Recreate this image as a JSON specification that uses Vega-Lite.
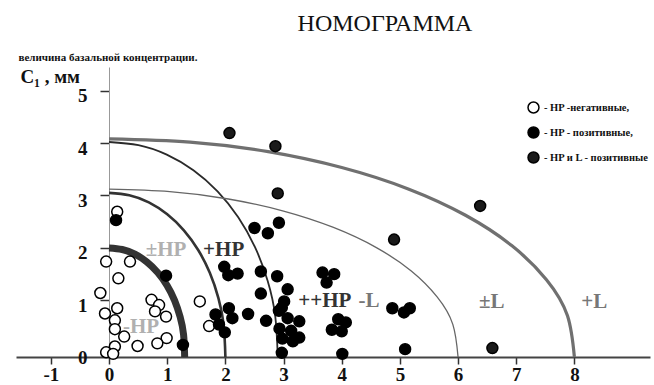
{
  "$schema": "https://vega.github.io/schema/vega-lite/v6.json",
  "width": 634,
  "height": 290,
  "autosize": "none",
  "padding": {"left": 16, "top": 67, "right": 4, "bottom": 28},
  "background": "white",
  "title": {
    "text": "НОМОГРАММА",
    "font": "Liberation Serif",
    "fontSize": 24,
    "fontWeight": "normal",
    "color": "#111",
    "anchor": "middle",
    "frame": "group",
    "dx": 52,
    "dy": 14,
    "offset": 10,
    "baseline": "alphabetic"
  },
  "config": {
    "view": {"stroke": null},
    "axis": {"grid": false}
  },
  "datasets": {
    "curves": [
      {"c": "c1", "i": 0, "x": 0, "y": 2.0},
      {"c": "c1", "i": 1, "x": 0.226, "y": 1.97},
      {"c": "c1", "i": 2, "x": 0.445, "y": 1.88},
      {"c": "c1", "i": 3, "x": 0.65, "y": 1.732},
      {"c": "c1", "i": 4, "x": 0.836, "y": 1.532},
      {"c": "c1", "i": 5, "x": 0.996, "y": 1.286},
      {"c": "c1", "i": 6, "x": 1.126, "y": 1.0},
      {"c": "c1", "i": 7, "x": 1.222, "y": 0.684},
      {"c": "c1", "i": 8, "x": 1.281, "y": 0.348},
      {"c": "c1", "i": 9, "x": 1.3, "y": -0.08},
      {"c": "c2", "i": 0, "x": 0, "y": 3.05},
      {"c": "c2", "i": 1, "x": 0.348, "y": 3.004},
      {"c": "c2", "i": 2, "x": 0.684, "y": 2.867},
      {"c": "c2", "i": 3, "x": 1.0, "y": 2.641},
      {"c": "c2", "i": 4, "x": 1.286, "y": 2.336},
      {"c": "c2", "i": 5, "x": 1.532, "y": 1.961},
      {"c": "c2", "i": 6, "x": 1.732, "y": 1.525},
      {"c": "c2", "i": 7, "x": 1.88, "y": 1.043},
      {"c": "c2", "i": 8, "x": 1.97, "y": 0.531},
      {"c": "c2", "i": 9, "x": 2.0, "y": -0.08},
      {"c": "c3", "i": 0, "x": 0, "y": 4.02},
      {"c": "c3", "i": 1, "x": 0.505, "y": 3.96},
      {"c": "c3", "i": 2, "x": 0.992, "y": 3.779},
      {"c": "c3", "i": 3, "x": 1.45, "y": 3.481},
      {"c": "c3", "i": 4, "x": 1.865, "y": 3.079},
      {"c": "c3", "i": 5, "x": 2.221, "y": 2.585},
      {"c": "c3", "i": 6, "x": 2.511, "y": 2.01},
      {"c": "c3", "i": 7, "x": 2.726, "y": 1.375},
      {"c": "c3", "i": 8, "x": 2.857, "y": 0.699},
      {"c": "c3", "i": 9, "x": 2.9, "y": -0.08},
      {"c": "c4", "i": 0, "x": 0, "y": 3.12},
      {"c": "c4", "i": 1, "x": 1.044, "y": 3.073},
      {"c": "c4", "i": 2, "x": 2.052, "y": 2.933},
      {"c": "c4", "i": 3, "x": 3.0, "y": 2.702},
      {"c": "c4", "i": 4, "x": 3.858, "y": 2.39},
      {"c": "c4", "i": 5, "x": 4.596, "y": 2.006},
      {"c": "c4", "i": 6, "x": 5.196, "y": 1.56},
      {"c": "c4", "i": 7, "x": 5.64, "y": 1.067},
      {"c": "c4", "i": 8, "x": 5.91, "y": 0.543},
      {"c": "c4", "i": 9, "x": 6.0, "y": -0.08},
      {"c": "c5", "i": 0, "x": 0, "y": 4.08},
      {"c": "c5", "i": 1, "x": 1.392, "y": 4.019},
      {"c": "c5", "i": 2, "x": 2.736, "y": 3.835},
      {"c": "c5", "i": 3, "x": 4.0, "y": 3.533},
      {"c": "c5", "i": 4, "x": 5.144, "y": 3.125},
      {"c": "c5", "i": 5, "x": 6.128, "y": 2.623},
      {"c": "c5", "i": 6, "x": 6.928, "y": 2.04},
      {"c": "c5", "i": 7, "x": 7.52, "y": 1.395},
      {"c": "c5", "i": 8, "x": 7.88, "y": 0.71},
      {"c": "c5", "i": 9, "x": 8.0, "y": -0.08}
    ],
    "points": [
      {"type": "- HP -негативные,", "x": 0.14, "y": 2.69},
      {"type": "- HP -негативные,", "x": -0.05, "y": 1.74},
      {"type": "- HP -негативные,", "x": 0.36, "y": 1.74},
      {"type": "- HP -негативные,", "x": 0.16, "y": 1.42},
      {"type": "- HP -негативные,", "x": -0.15, "y": 1.14},
      {"type": "- HP -негативные,", "x": 0.14, "y": 0.85},
      {"type": "- HP -негативные,", "x": -0.07, "y": 0.75},
      {"type": "- HP -негативные,", "x": 0.1, "y": 0.62},
      {"type": "- HP -негативные,", "x": 0.1, "y": 0.45},
      {"type": "- HP -негативные,", "x": 0.26, "y": 0.31},
      {"type": "- HP -негативные,", "x": 0.73, "y": 1.01},
      {"type": "- HP -негативные,", "x": 0.86, "y": 0.91},
      {"type": "- HP -негативные,", "x": 0.79, "y": 0.79},
      {"type": "- HP -негативные,", "x": 0.98, "y": 0.69},
      {"type": "- HP -негативные,", "x": 0.99, "y": 0.28},
      {"type": "- HP -негативные,", "x": 0.83, "y": 0.18},
      {"type": "- HP -негативные,", "x": 0.49, "y": 0.13},
      {"type": "- HP -негативные,", "x": 0.1, "y": 0.12},
      {"type": "- HP -негативные,", "x": -0.05, "y": 0.01},
      {"type": "- HP -негативные,", "x": 0.07, "y": -0.02},
      {"type": "- HP -негативные,", "x": 1.56, "y": 0.98},
      {"type": "- HP -негативные,", "x": 1.72, "y": 0.51},
      {"type": "- HP - позитивные,", "x": 0.12, "y": 2.53},
      {"type": "- HP - позитивные,", "x": 0.98, "y": 1.47},
      {"type": "- HP - позитивные,", "x": 1.27, "y": 0.15},
      {"type": "- HP - позитивные,", "x": 2.5, "y": 2.38},
      {"type": "- HP - позитивные,", "x": 2.73, "y": 2.28},
      {"type": "- HP - позитивные,", "x": 2.92, "y": 2.48},
      {"type": "- HP - позитивные,", "x": 1.98, "y": 1.64},
      {"type": "- HP - позитивные,", "x": 2.05, "y": 1.48},
      {"type": "- HP - позитивные,", "x": 2.21, "y": 1.51},
      {"type": "- HP - позитивные,", "x": 2.61, "y": 1.55},
      {"type": "- HP - позитивные,", "x": 2.89, "y": 1.46},
      {"type": "- HP - позитивные,", "x": 3.07, "y": 1.21},
      {"type": "- HP - позитивные,", "x": 2.61, "y": 1.13},
      {"type": "- HP - позитивные,", "x": 3.01, "y": 0.98},
      {"type": "- HP - позитивные,", "x": 2.97, "y": 0.86},
      {"type": "- HP - позитивные,", "x": 2.92, "y": 0.8},
      {"type": "- HP - позитивные,", "x": 2.06, "y": 0.85},
      {"type": "- HP - позитивные,", "x": 1.83, "y": 0.73},
      {"type": "- HP - позитивные,", "x": 2.12, "y": 0.66},
      {"type": "- HP - позитивные,", "x": 2.39, "y": 0.74},
      {"type": "- HP - позитивные,", "x": 1.89, "y": 0.54},
      {"type": "- HP - позитивные,", "x": 1.99, "y": 0.39},
      {"type": "- HP - позитивные,", "x": 2.7, "y": 0.61},
      {"type": "- HP - позитивные,", "x": 3.07, "y": 0.66},
      {"type": "- HP - позитивные,", "x": 3.27, "y": 0.6},
      {"type": "- HP - позитивные,", "x": 2.93, "y": 0.46},
      {"type": "- HP - позитивные,", "x": 3.13, "y": 0.42},
      {"type": "- HP - позитивные,", "x": 2.98, "y": 0.27},
      {"type": "- HP - позитивные,", "x": 3.16, "y": 0.22},
      {"type": "- HP - позитивные,", "x": 3.27, "y": 0.29},
      {"type": "- HP - позитивные,", "x": 2.97, "y": 0.0},
      {"type": "- HP - позитивные,", "x": 3.67, "y": 1.53},
      {"type": "- HP - позитивные,", "x": 3.87, "y": 1.5},
      {"type": "- HP - позитивные,", "x": 3.74, "y": 1.34},
      {"type": "- HP - позитивные,", "x": 3.94, "y": 0.64},
      {"type": "- HP - позитивные,", "x": 4.07, "y": 0.58},
      {"type": "- HP - позитивные,", "x": 3.83, "y": 0.44},
      {"type": "- HP - позитивные,", "x": 4.0, "y": 0.41},
      {"type": "- HP - позитивные,", "x": 4.01, "y": -0.02},
      {"type": "- HP - позитивные,", "x": 4.87, "y": 0.85},
      {"type": "- HP - позитивные,", "x": 5.07, "y": 0.77},
      {"type": "- HP - позитивные,", "x": 5.17, "y": 0.85},
      {"type": "- HP - позитивные,", "x": 5.09, "y": 0.07},
      {"type": "- HP и  L - позитивные", "x": 2.07, "y": 4.19},
      {"type": "- HP и  L - позитивные", "x": 2.86, "y": 3.94},
      {"type": "- HP и  L - позитивные", "x": 2.9, "y": 3.04},
      {"type": "- HP и  L - позитивные", "x": 4.9, "y": 2.16},
      {"type": "- HP и  L - позитивные", "x": 6.38, "y": 2.8},
      {"type": "- HP и  L - позитивные", "x": 6.59, "y": 0.09}
    ],
    "labels": [
      {"label": "±HP", "tone": "light", "x": 0.98, "y": 1.96},
      {"label": "-HP", "tone": "light", "x": 0.55, "y": 0.5},
      {"label": "+HP", "tone": "dark", "x": 1.97, "y": 1.96},
      {"label": "++HP", "tone": "dark", "x": 3.71, "y": 0.99},
      {"label": "-L", "tone": "mid", "x": 4.47, "y": 0.99},
      {"label": "±L", "tone": "mid", "x": 6.58, "y": 0.96},
      {"label": "+L", "tone": "mid", "x": 8.34, "y": 0.96}
    ]
  },
  "encoding": {
    "x": {
      "type": "quantitative",
      "scale": {"domain": [-1.6, 9.3], "nice": false, "zero": false},
      "axis": {
        "title": "величина базальной концентрации.",
        "titleFont": "Liberation Serif",
        "titleFontSize": 11,
        "titleFontWeight": "bold",
        "titleColor": "#111",
        "titleAlign": "left",
        "titleAnchor": "start",
        "titleBaseline": "middle",
        "titleX": 2,
        "titleY": -300,
        "values": [-1, 0, 1, 2, 3, 4, 5, 6, 7, 8],
        "labelExpr": "'' + datum.value",
        "domainColor": "#444",
        "domainWidth": 2,
        "tickColor": "#333",
        "tickWidth": 1.5,
        "tickSize": 7,
        "labelFont": "Liberation Serif",
        "labelFontSize": 19,
        "labelFontWeight": "bold",
        "labelColor": "#111",
        "labelPadding": 1
      }
    },
    "y": {
      "type": "quantitative",
      "scale": {"domain": [-0.08, 5.45], "nice": false, "zero": false},
      "axis": {
        "title": "C₁ , мм",
        "titleFont": "Liberation Serif",
        "titleFontSize": 19,
        "titleFontWeight": "bold",
        "titleColor": "#111",
        "titleAngle": 0,
        "titleAlign": "left",
        "titleBaseline": "alphabetic",
        "titleX": -89,
        "titleY": 15,
        "offset": -93,
        "values": [0, 1, 2, 3, 4, 5],
        "labelExpr": "'' + datum.value",
        "domainColor": "#999",
        "domainWidth": 1,
        "tickColor": "#333",
        "tickWidth": 1.5,
        "tickSize": 9,
        "labelFont": "Liberation Serif",
        "labelFontSize": 19,
        "labelFontWeight": "bold",
        "labelColor": "#111",
        "labelPadding": 13,
        "labelOffset": 5
      }
    }
  },
  "layer": [
    {
      "data": {"name": "curves"},
      "transform": [{"filter": "datum.c == 'c1'"}],
      "mark": {"type": "line", "interpolate": "natural", "stroke": "#333333", "strokeWidth": 7},
      "encoding": {"x": {"field": "x"}, "y": {"field": "y"}, "order": {"field": "i", "type": "quantitative"}}
    },
    {
      "data": {"name": "curves"},
      "transform": [{"filter": "datum.c == 'c2'"}],
      "mark": {"type": "line", "interpolate": "natural", "stroke": "#333333", "strokeWidth": 2.6},
      "encoding": {"x": {"field": "x"}, "y": {"field": "y"}, "order": {"field": "i", "type": "quantitative"}}
    },
    {
      "data": {"name": "curves"},
      "transform": [{"filter": "datum.c == 'c3'"}],
      "mark": {"type": "line", "interpolate": "natural", "stroke": "#2a2a2a", "strokeWidth": 1.8},
      "encoding": {"x": {"field": "x"}, "y": {"field": "y"}, "order": {"field": "i", "type": "quantitative"}}
    },
    {
      "data": {"name": "curves"},
      "transform": [{"filter": "datum.c == 'c4'"}],
      "mark": {"type": "line", "interpolate": "natural", "stroke": "#666666", "strokeWidth": 1.3},
      "encoding": {"x": {"field": "x"}, "y": {"field": "y"}, "order": {"field": "i", "type": "quantitative"}}
    },
    {
      "data": {"name": "curves"},
      "transform": [{"filter": "datum.c == 'c5'"}],
      "mark": {"type": "line", "interpolate": "natural", "stroke": "#707070", "strokeWidth": 3.2},
      "encoding": {"x": {"field": "x"}, "y": {"field": "y"}, "order": {"field": "i", "type": "quantitative"}}
    },
    {
      "data": {"name": "points"},
      "mark": {"type": "point", "shape": "circle", "filled": false, "stroke": "black", "strokeWidth": 1.5, "opacity": 1, "size": 120},
      "encoding": {
        "x": {"field": "x"},
        "y": {"field": "y"},
        "fill": {
          "field": "type", "type": "nominal",
          "scale": {"domain": ["- HP -негативные,", "- HP - позитивные,", "- HP и  L - позитивные"], "range": ["#ffffff", "#000000", "#1a1a1a"]},
          "legend": {
            "title": null,
            "orient": "none",
            "legendX": 511,
            "legendY": 34,
            "symbolType": "circle",
            "symbolSize": 120,
            "symbolStrokeColor": "black",
            "symbolStrokeWidth": 1.5,
            "labelFont": "Liberation Serif",
            "labelFontSize": 10.5,
            "labelFontWeight": "bold",
            "labelColor": "#111",
            "labelOffset": 4,
            "rowPadding": 8
          }
        }
      }
    },
    {
      "data": {"name": "labels"},
      "transform": [{"filter": "datum.tone == 'light'"}],
      "mark": {"type": "text", "font": "Liberation Serif", "fontSize": 21, "fontWeight": "bold", "align": "center", "baseline": "middle", "fill": "#b0b0b0"},
      "encoding": {"x": {"field": "x"}, "y": {"field": "y"}, "text": {"field": "label"}}
    },
    {
      "data": {"name": "labels"},
      "transform": [{"filter": "datum.tone == 'dark'"}],
      "mark": {"type": "text", "font": "Liberation Serif", "fontSize": 21, "fontWeight": "bold", "align": "center", "baseline": "middle", "fill": "#333333"},
      "encoding": {"x": {"field": "x"}, "y": {"field": "y"}, "text": {"field": "label"}}
    },
    {
      "data": {"name": "labels"},
      "transform": [{"filter": "datum.tone == 'mid'"}],
      "mark": {"type": "text", "font": "Liberation Serif", "fontSize": 21, "fontWeight": "bold", "align": "center", "baseline": "middle", "fill": "#777777"},
      "encoding": {"x": {"field": "x"}, "y": {"field": "y"}, "text": {"field": "label"}}
    }
  ]
}
